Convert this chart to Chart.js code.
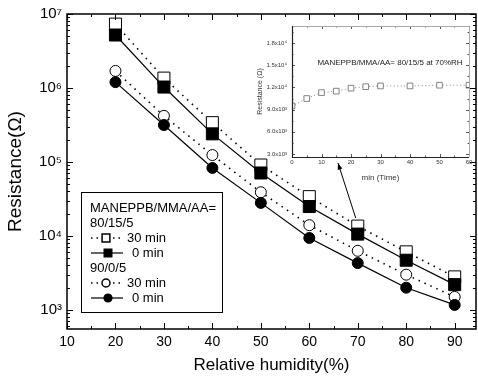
<!DOCTYPE html>
<html lang="en">
<head>
<meta charset="UTF-8">
<title>Resistance vs relative humidity</title>
<script src="https://cdn.jsdelivr.net/npm/chart.js"></script>
<style>
  body { margin: 0; background: #fff; }
  .wrap { position: relative; width: 478px; height: 376px; overflow: hidden; }
  #main { position: absolute; left: 0; top: 0; }
  #inset { position: absolute; left: 250px; top: 18px; }
</style>
</head>
<body>
<div class="wrap">
  <canvas id="main" width="478" height="376"></canvas>
  <canvas id="inset" width="228" height="165"></canvas>
</div>
<script>
// main chart data
const humidity = [20, 30, 40, 50, 60, 70, 80, 90];
const r80_30min = [7.3e6, 1.36e6, 3.4e5, 9.1e4, 3.4e4, 1.36e4, 6.1e3, 2.8e3];
const r80_0min  = [5.2e6, 1.03e6, 2.4e5, 7.1e4, 2.5e4, 1.06e4, 4.7e3, 2.2e3];
const r90_30min = [1.7e6, 4.2e5, 1.24e5, 3.9e4, 1.4e4, 6.3e3, 3.0e3, 1.5e3];
const r90_0min  = [1.2e6, 3.16e5, 8.3e4, 2.8e4, 9.4e3, 4.3e3, 2.0e3, 1.17e3];
const yDecades = [1e3, 1e4, 1e5, 1e6, 1e7];
const yDecadeLabels = ['10³', '10⁴', '10⁵', '10⁶', '10⁷'];

// inset data
const insetTime = [0, 5, 10, 15, 20, 25, 30, 40, 50, 60];
const insetRes  = [9.5e3, 1.05e4, 1.13e4, 1.15e4, 1.19e4, 1.21e4, 1.22e4, 1.22e4, 1.23e4, 1.23e4];
const insetYTicks = [3000, 6000, 9000, 12000, 15000, 18000];
const insetYLabels = ['3.0x10³', '6.0x10³', '9.0x10³', '1.2x10⁴', '1.5x10⁴', '1.8x10⁴'];

const FONT = '"Liberation Sans", Arial, Helvetica, sans-serif';
Chart.defaults.font.family = FONT;
Chart.defaults.color = '#000';

function line(label, data, style, filled, dotted, radius) {
  return {
    label: label,
    data: data.map((v, i) => ({x: humidity[i], y: v})),
    borderColor: '#000', borderWidth: dotted ? 1.6 : 1.2,
    borderDash: dotted ? [1.5, 5] : [],
    pointStyle: style, pointRadius: radius, pointHoverRadius: radius,
    pointBackgroundColor: filled ? '#000' : '#fff',
    pointBorderColor: '#000', pointBorderWidth: 1,
    tension: 0, fill: false
  };
}

// no label overhang padding, the plot box is fixed
function noPad(s) {
  s.paddingLeft = 0; s.paddingRight = 0; s.paddingTop = 0; s.paddingBottom = 0;
}

// ticks + frame
const frameTicks = {
  id: 'frameTicks',
  afterDatasetsDraw(chart) {
    const {ctx, chartArea: a, scales: {x, y}} = chart;
    ctx.save();
    ctx.strokeStyle = '#000';
    ctx.lineWidth = 1;
    ctx.beginPath();
    for (let v = 10; v <= x.max; v += 5) {
      const px = Math.round(x.getPixelForValue(v)) + 0.5;
      const len = v % 10 === 0 ? 6 : 3;
      ctx.moveTo(px, a.bottom); ctx.lineTo(px, a.bottom - len);
      ctx.moveTo(px, a.top); ctx.lineTo(px, a.top + len);
    }
    for (let e = 2; e <= 7; e++) {
      for (let k = 1; k < 10; k++) {
        const v = k * Math.pow(10, e);
        if (v < y.min || v > y.max) continue;
        const py = Math.round(y.getPixelForValue(v)) + 0.5;
        const len = k === 1 ? 6 : 3;
        ctx.moveTo(a.left, py); ctx.lineTo(a.left + len, py);
        ctx.moveTo(a.right, py); ctx.lineTo(a.right - len, py);
      }
    }
    ctx.stroke();
    ctx.lineWidth = 1.5;
    ctx.strokeRect(a.left, a.top, a.right - a.left, a.bottom - a.top);
    ctx.restore();
  }
};

// legend box and arrow to the inset
const legendBox = {
  id: 'legendBox',
  afterDraw(chart) {
    const {ctx, scales: {x, y}} = chart;
    const ds = chart.data.datasets;
    ctx.save();
    // arrow from the 70 %RH point to the inset
    const x0 = x.getPixelForValue(70) - 2, y0 = y.getPixelForValue(r80_30min[5]) - 8;
    const x1 = 338, y1 = 163;
    ctx.strokeStyle = '#000'; ctx.lineWidth = 1;
    ctx.beginPath(); ctx.moveTo(x0, y0); ctx.lineTo(x1, y1); ctx.stroke();
    const ang = Math.atan2(y1 - y0, x1 - x0);
    ctx.beginPath();
    ctx.moveTo(x1, y1);
    ctx.lineTo(x1 - 7 * Math.cos(ang - 0.35), y1 - 7 * Math.sin(ang - 0.35));
    ctx.lineTo(x1 - 7 * Math.cos(ang + 0.35), y1 - 7 * Math.sin(ang + 0.35));
    ctx.closePath(); ctx.fillStyle = '#000'; ctx.fill();

    // box
    ctx.fillStyle = '#fff';
    ctx.fillRect(81, 192, 141, 120);
    ctx.lineWidth = 1;
    ctx.strokeRect(81.5, 192.5, 141, 120);

    ctx.fillStyle = '#000';
    ctx.font = '13px ' + FONT;
    ctx.textBaseline = 'middle';
    ctx.textAlign = 'left';
    ctx.fillText('MANEPPB/MMA/AA=', 90, 208);
    ctx.fillText('80/15/5', 90, 223);
    ctx.fillText('90/0/5', 90, 268);

    const rows = [
      {d: ds[2], y: 238, dotted: true, text: '30 min', tx: 127},
      {d: ds[0], y: 253, dotted: false, text: '0 min', tx: 132},
      {d: ds[3], y: 283, dotted: true, text: '30 min', tx: 127},
      {d: ds[1], y: 298, dotted: false, text: '0 min', tx: 132}
    ];
    rows.forEach(r => {
      ctx.save();
      ctx.strokeStyle = '#000';
      ctx.lineWidth = r.dotted ? 1.5 : 1.2;
      ctx.setLineDash(r.dotted ? [1.5, 4] : []);
      ctx.beginPath();
      ctx.moveTo(91, r.y); ctx.lineTo(r.dotted ? 121 : 123, r.y);
      ctx.stroke();
      ctx.setLineDash([]);
      ctx.fillStyle = r.d.pointBackgroundColor;
      ctx.strokeStyle = '#000';
      const rad = r.d.pointStyle === 'rect' ? 5.5 : 4;
      Chart.helpers.drawPoint(ctx, {pointStyle: r.d.pointStyle, rotation: 0, borderWidth: 1, radius: rad},
        r.dotted ? 106 : 108, r.y);
      ctx.restore();
      ctx.fillStyle = '#000';
      ctx.fillText(r.text, r.tx, r.y);
    });
    ctx.restore();
  }
};

new Chart(document.getElementById('main'), {
  type: 'line',
  data: {
    datasets: [
      line('80/15/5 0 min', r80_0min, 'rect', true, false, 8.5),
      line('90/0/5 0 min', r90_0min, 'circle', true, false, 5.5),
      line('80/15/5 30 min', r80_30min, 'rect', false, true, 8.5),
      line('90/0/5 30 min', r90_30min, 'circle', false, true, 5.5)
    ]
  },
  options: {
    responsive: false,
    devicePixelRatio: 1,
    animation: false,
    layout: { autoPadding: false, padding: { left: 0, top: 14, right: 2, bottom: 0 } },
    plugins: { legend: { display: false }, tooltip: { enabled: false } },
    scales: {
      x: {
        type: 'linear', min: 10, max: 94.4,
        afterFit(s) { s.height = 47; noPad(s); },
        afterBuildTicks(s) {
          s.ticks = [10, 20, 30, 40, 50, 60, 70, 80, 90].map(v => ({value: v}));
        },
        grid: { display: false, drawTicks: false },
        border: { display: false },
        ticks: { font: { size: 14 }, padding: 5, maxRotation: 0, autoSkip: false },
        title: { display: true, text: 'Relative humidity(%)', font: { size: 17 },
                 padding: { top: 4, bottom: 0 } }
      },
      y: {
        type: 'logarithmic', min: 553, max: 1e7,
        afterFit(s) { s.width = 67; noPad(s); },
        afterBuildTicks(s) { s.ticks = yDecades.map(v => ({value: v})); },
        grid: { display: false, drawTicks: false },
        border: { display: false },
        ticks: {
          font: { size: 15 }, padding: 5, autoSkip: false,
          callback: v => yDecadeLabels[yDecades.indexOf(v)] || ''
        },
        title: { display: true, text: 'Resistance(Ω)', font: { size: 19 },
                 padding: { top: 4, bottom: 0 } }
      }
    }
  },
  plugins: [frameTicks, legendBox]
});

// inset
const insetFrame = {
  id: 'insetFrame',
  afterDatasetsDraw(chart) {
    const {ctx, chartArea: a, scales: {x, y}} = chart;
    ctx.save();
    ctx.lineWidth = 1;
    ctx.strokeStyle = '#555';
    ctx.beginPath();
    for (let v = 0; v <= 60; v += 5) {
      const px = Math.round(x.getPixelForValue(v)) + 0.5;
      const len = v % 10 === 0 ? 3 : 1.5;
      ctx.moveTo(px, a.bottom); ctx.lineTo(px, a.bottom - len);
      ctx.moveTo(px, a.top); ctx.lineTo(px, a.top + len);
    }
    for (let v = 3000; v <= y.max; v += 1500) {
      const py = Math.round(y.getPixelForValue(v)) + 0.5;
      const len = v % 3000 === 0 ? 3 : 1.5;
      ctx.moveTo(a.left, py); ctx.lineTo(a.left + len, py);
      ctx.moveTo(a.right, py); ctx.lineTo(a.right - len, py);
    }
    ctx.stroke();
    // light top/right, dark left/bottom
    ctx.strokeStyle = '#aaa';
    ctx.beginPath();
    ctx.moveTo(a.left, a.top + 0.5); ctx.lineTo(a.right + 0.5, a.top + 0.5);
    ctx.lineTo(a.right + 0.5, a.bottom);
    ctx.stroke();
    ctx.strokeStyle = '#222';
    ctx.lineWidth = 1.2;
    ctx.beginPath();
    ctx.moveTo(a.left + 0.5, a.top); ctx.lineTo(a.left + 0.5, a.bottom + 0.5);
    ctx.lineTo(a.right, a.bottom + 0.5);
    ctx.stroke();
    // note
    ctx.fillStyle = '#222';
    ctx.font = '8px ' + FONT;
    ctx.textBaseline = 'middle';
    ctx.textAlign = 'center';
    ctx.fillText('MANEPPB/MMA/AA= 80/15/5 at 70%RH', 140, 45);
    ctx.restore();
  }
};

new Chart(document.getElementById('inset'), {
  type: 'line',
  data: {
    datasets: [{
      label: '80/15/5 at 70%RH',
      data: insetTime.map((t, i) => ({x: t, y: insetRes[i]})),
      borderColor: '#888', borderWidth: 1, borderDash: [1, 2.5],
      pointStyle: 'rect', pointRadius: 4, pointBackgroundColor: '#fff',
      pointBorderColor: '#666', pointBorderWidth: 0.8, tension: 0
    }]
  },
  options: {
    responsive: false,
    devicePixelRatio: 1,
    animation: false,
    layout: { autoPadding: false, padding: { left: 0, top: 8, right: 9, bottom: 0 } },
    plugins: { legend: { display: false }, tooltip: { enabled: false } },
    scales: {
      x: {
        type: 'linear', min: 0, max: 60,
        afterFit(s) { s.height = 26; noPad(s); },
        afterBuildTicks(s) { s.ticks = [0, 10, 20, 30, 40, 50, 60].map(v => ({value: v})); },
        grid: { display: false, drawTicks: false },
        border: { display: false },
        ticks: { font: { size: 6 }, color: '#333', padding: 2, maxRotation: 0, autoSkip: false },
        title: { display: true, text: 'min (Time)', font: { size: 8 }, color: '#333',
                 padding: { top: 6, bottom: 0 } }
      },
      y: {
        type: 'linear', min: 2600, max: 20300,
        afterFit(s) { s.width = 42; noPad(s); },
        afterBuildTicks(s) { s.ticks = insetYTicks.map(v => ({value: v})); },
        grid: { display: false, drawTicks: false },
        border: { display: false },
        ticks: {
          font: { size: 6 }, color: '#333', padding: 5,
          callback: v => insetYLabels[insetYTicks.indexOf(v)] || ''
        },
        title: { display: true, text: 'Resistance (Ω)', font: { size: 7 }, color: '#333',
                 padding: { top: 6, bottom: 0 } }
      }
    }
  },
  plugins: [insetFrame]
});
</script>
</body>
</html>
